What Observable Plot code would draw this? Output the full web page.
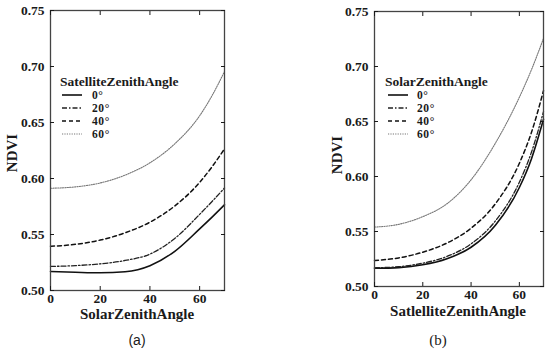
<!DOCTYPE html>
<html><head><meta charset="utf-8">
<script src="https://cdn.jsdelivr.net/npm/d3@7"></script>
<script src="https://cdn.jsdelivr.net/npm/@observablehq/plot@0.6"></script>
<style>
body{margin:0;background:#fff;}
#wrap{position:relative;width:550px;height:351px;overflow:hidden;font-family:"Liberation Serif",serif;color:#1a1a1a;}
.t{position:absolute;white-space:nowrap;transform:translate(-50%,-50%);font-weight:bold;font-size:15px;line-height:1;}
.rot{transform:translate(-50%,-50%) rotate(-90deg);}
</style></head><body><div id="wrap"></div>
<script>
// ---- data ----
const angles = [0, 10, 20, 30, 40, 50, 60, 65, 70];
const xTicks = [0, 20, 40, 60];
const yTicks = [0.50, 0.55, 0.60, 0.65, 0.70, 0.75];
const seriesNames = ["0°", "20°", "40°", "60°"];
// panel (a): NDVI vs SolarZenithAngle, series = SatelliteZenithAngle
const aSat0  = [0.5170, 0.5163, 0.5158, 0.5168, 0.5222, 0.5350, 0.5550, 0.5655, 0.5765];
const aSat20 = [0.5215, 0.5222, 0.5238, 0.5268, 0.5325, 0.5465, 0.5680, 0.5795, 0.5915];
const aSat40 = [0.5395, 0.5412, 0.5450, 0.5515, 0.5610, 0.5755, 0.5965, 0.6105, 0.6265];
const aSat60 = [0.5913, 0.5925, 0.5960, 0.6030, 0.6140, 0.6310, 0.6560, 0.6740, 0.6955];
// panel (b): NDVI vs SatelliteZenithAngle, series = SolarZenithAngle
const bSol0  = [0.5166, 0.5172, 0.5197, 0.5252, 0.5357, 0.5555, 0.5900, 0.6160, 0.6520];
const bSol20 = [0.5170, 0.5180, 0.5212, 0.5273, 0.5388, 0.5594, 0.5948, 0.6220, 0.6590];
const bSol40 = [0.5236, 0.5260, 0.5312, 0.5395, 0.5530, 0.5750, 0.6120, 0.6400, 0.6780];
const bSol60 = [0.5540, 0.5565, 0.5635, 0.5752, 0.5970, 0.6300, 0.6720, 0.6970, 0.7255];

const styles = {
  "0°":  {stroke: "#111", strokeWidth: 1.6, dash: null},
  "20°": {stroke: "#222", strokeWidth: 1.3, dash: "5,2,1.5,2"},
  "40°": {stroke: "#111", strokeWidth: 1.5, dash: "4,3"},
  "60°": {stroke: "#777", strokeWidth: 1.1, dash: "1.2,1.2"}
};

function table(seriesArrays) {
  return seriesNames.flatMap((s, i) => angles.map((x, j) => ({series: s, x, y: seriesArrays[i][j]})));
}

function panel(data, m) {
  const lines = seriesNames.map(s => Plot.line(data.filter(d => d.series === s), {
    x: "x", y: "y", curve: "monotone-x",
    stroke: styles[s].stroke, strokeWidth: styles[s].strokeWidth,
    strokeDasharray: styles[s].dash
  }));
  return Plot.plot({
    width: m.width, height: 330,
    marginLeft: 50, marginRight: m.right, marginTop: m.top, marginBottom: m.bottom,
    x: {domain: [0, 70]},
    y: {domain: [0.5, 0.75]},
    style: {fontFamily: "'Liberation Serif', serif", fontWeight: "bold", fontSize: "13.5px", background: "transparent", color: "#1a1a1a", overflow: "visible"},
    marks: [
      ...lines,
      Plot.frame({stroke: "#444", strokeWidth: 1.3}),
      Plot.axisX(xTicks, {anchor: "bottom", tickSize: -4, tickPadding: 7, tickFormat: d => d, label: null}),
      Plot.axisX(xTicks, {anchor: "top", tickSize: -4, tickFormat: () => "", label: null}),
      Plot.axisY(yTicks, {anchor: "left", tickSize: -4, tickPadding: 10, tickFormat: d3.format(".2f"), label: null}),
      Plot.axisY(yTicks, {anchor: "right", tickSize: -4, tickFormat: () => "", label: null})
    ]
  });
}

const wrap = document.getElementById("wrap");
const pa = panel(table([aSat0, aSat20, aSat40, aSat60]), {width: 240, right: 16, top: 10, bottom: 40});
pa.style.position = "absolute"; pa.style.left = "0px"; pa.style.top = "0px";
wrap.appendChild(pa);
const pb = panel(table([bSol0, bSol20, bSol40, bSol60]), {width: 226, right: 7, top: 11, bottom: 44});
pb.style.position = "absolute"; pb.style.left = "324px"; pb.style.top = "0px";
wrap.appendChild(pb);

function addText(txt, x, y, cls, extra) {
  const d = document.createElement("div");
  d.className = cls; d.textContent = txt;
  d.style.left = x + "px"; d.style.top = y + "px";
  if (extra) Object.assign(d.style, extra);
  wrap.appendChild(d);
}
addText("SolarZenithAngle", 137, 314, "t");
addText("SatlelliteZenithAngle", 458, 311, "t");
addText("NDVI", 12, 153, "t rot");
addText("NDVI", 337, 155, "t rot");
addText("(a)", 137, 340, "t", {fontFamily: "'Liberation Sans', sans-serif", fontWeight: "normal", fontSize: "14px"});
addText("(b)", 438, 340, "t", {fontWeight: "normal", fontSize: "15px"});

// legends
const ns = "http://www.w3.org/2000/svg";
const lg = document.createElementNS(ns, "svg");
lg.setAttribute("width", 550); lg.setAttribute("height", 351);
lg.style.position = "absolute"; lg.style.left = "0"; lg.style.top = "0";
wrap.appendChild(lg);
function legend(title, x0, sx, tx) {
  const t = document.createElementNS(ns, "text");
  t.setAttribute("x", x0); t.setAttribute("y", 86);
  t.setAttribute("font-family", "Liberation Serif, serif");
  t.setAttribute("font-weight", "bold"); t.setAttribute("font-size", 13.5);
  t.setAttribute("fill", "#1a1a1a");
  t.textContent = title; lg.appendChild(t);
  seriesNames.forEach((s, i) => {
    const y = 95 + i * 13;
    const l = document.createElementNS(ns, "line");
    l.setAttribute("x1", sx); l.setAttribute("x2", sx + 20);
    l.setAttribute("y1", y); l.setAttribute("y2", y);
    l.setAttribute("stroke", styles[s].stroke);
    l.setAttribute("stroke-width", styles[s].strokeWidth);
    if (styles[s].dash) l.setAttribute("stroke-dasharray", styles[s].dash);
    lg.appendChild(l);
    const tt = document.createElementNS(ns, "text");
    tt.setAttribute("x", tx); tt.setAttribute("y", y + 4);
    tt.setAttribute("font-family", "Liberation Serif, serif");
    tt.setAttribute("font-weight", "bold"); tt.setAttribute("font-size", 11.5);
    tt.setAttribute("letter-spacing", "0.6");
    tt.setAttribute("fill", "#1a1a1a");
    tt.textContent = s; lg.appendChild(tt);
  });
}
legend("SatelliteZenithAngle", 60, 62, 92);
legend("SolarZenithAngle", 385, 388, 417);
</script></body></html>
